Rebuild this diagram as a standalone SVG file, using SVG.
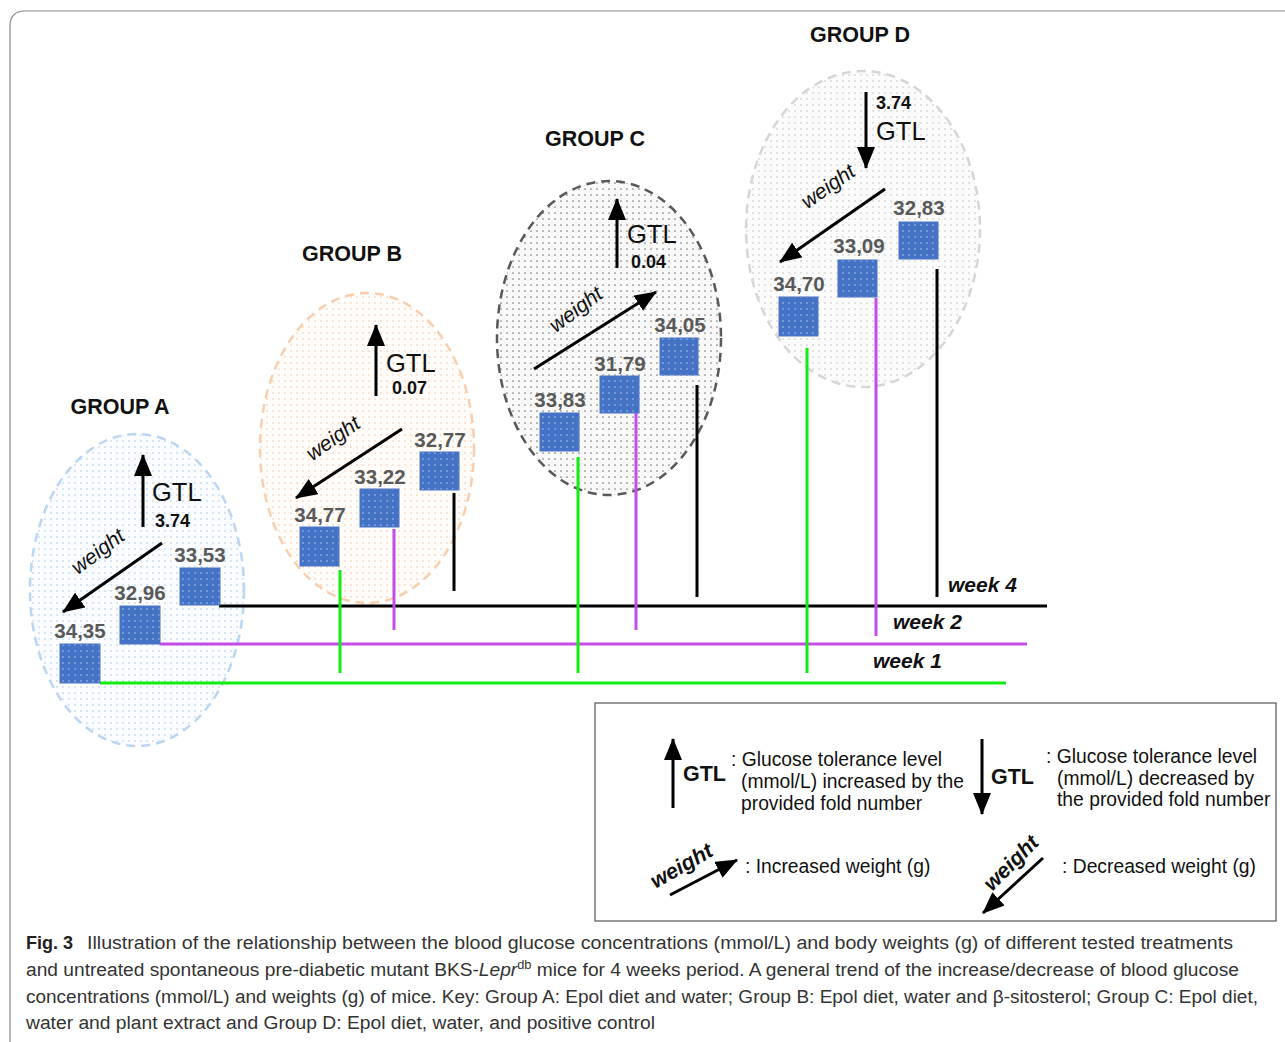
<svg xmlns="http://www.w3.org/2000/svg" width="1285" height="1042" viewBox="0 0 1285 1042">
<style>
.grp{font-family:"Liberation Sans",Arial,sans-serif;font-weight:bold;font-size:21.5px;fill:#111;text-anchor:middle}
.val{font-family:"Liberation Sans",Arial,sans-serif;font-weight:bold;font-size:20.5px;fill:#595959;text-anchor:middle}
.gtl{font-family:"Liberation Sans",Arial,sans-serif;font-size:25.5px;fill:#111}
.fold{font-family:"Liberation Sans",Arial,sans-serif;font-weight:bold;font-size:18px;fill:#111}
.wt{font-family:"Liberation Sans",Arial,sans-serif;font-style:italic;font-size:21px;fill:#111;text-anchor:middle}
.wk{font-family:"Liberation Sans",Arial,sans-serif;font-style:italic;font-weight:bold;font-size:21px;fill:#111}
.lg{font-family:"Liberation Sans",Arial,sans-serif;font-size:19.3px;fill:#111}
.lgb{font-family:"Liberation Sans",Arial,sans-serif;font-weight:bold;font-size:21.5px;fill:#111}
.lgw{font-family:"Liberation Sans",Arial,sans-serif;font-weight:bold;font-style:italic;font-size:21.5px;fill:#111;text-anchor:middle}
.cap{font-family:"Liberation Sans",Arial,sans-serif;font-size:18px;fill:#333}
.arr{stroke:#000;stroke-width:3;fill:none;marker-end:url(#ah)}
.box{fill:url(#boxp);stroke:#4a76c8;stroke-width:1}
.g1{stroke:#11ee11;stroke-width:3;fill:none}
.w2{stroke:#c44de8;stroke-width:3;fill:none}
.w4{stroke:#000;stroke-width:3;fill:none}
</style>
<defs>
<marker id="ah" viewBox="0 0 22 18" refX="21" refY="9" markerWidth="22" markerHeight="18" markerUnits="userSpaceOnUse" orient="auto">
<path d="M0,0 L22,9 L0,18 z" fill="#000"/>
</marker>
<pattern id="pA" width="6" height="6" patternUnits="userSpaceOnUse"><rect width="6" height="6" fill="#fafcff"/><circle cx="3" cy="3" r="0.9" fill="#c6daf2"/></pattern>
<pattern id="pB" width="6" height="6" patternUnits="userSpaceOnUse"><rect width="6" height="6" fill="#fffcfa"/><circle cx="3" cy="3" r="0.9" fill="#f9d9c2"/></pattern>
<pattern id="pC" width="6" height="6" patternUnits="userSpaceOnUse"><rect width="6" height="6" fill="#f8f8f8"/><circle cx="3" cy="3" r="0.85" fill="#808080"/></pattern>
<pattern id="pD" width="6" height="6" patternUnits="userSpaceOnUse"><rect width="6" height="6" fill="#fbfbfb"/><circle cx="3" cy="3" r="0.9" fill="#d6d6d6"/></pattern>
<pattern id="boxp" width="6" height="6" patternUnits="userSpaceOnUse"><rect width="6" height="6" fill="#4472c4"/><circle cx="3" cy="3" r="0.8" fill="#b8c9ea"/></pattern>
</defs>

<path d="M10,1042 L10,26 Q10,11 25,11 L1285,11" fill="none" stroke="#888" stroke-width="1.2"/>

<g id="ellipses">
<ellipse id="ellA" cx="137" cy="590" rx="107" ry="156" fill="url(#pA)" stroke="#bcd5f0" stroke-width="2.5" stroke-dasharray="9,6"/>
<ellipse id="ellB" cx="367" cy="448" rx="107" ry="155" fill="url(#pB)" stroke="#f8cfae" stroke-width="2.5" stroke-dasharray="9,6"/>
<ellipse id="ellC" cx="609" cy="338" rx="112" ry="157" fill="url(#pC)" stroke="#595959" stroke-width="2.5" stroke-dasharray="9,6"/>
<ellipse id="ellD" cx="863" cy="229" rx="117" ry="158" fill="url(#pD)" stroke="#d6d6d6" stroke-width="2.5" stroke-dasharray="9,6"/>
</g>

<g id="connectors">
<line class="w4" x1="219" y1="606" x2="1047" y2="606"/>
<line class="w2" x1="160" y1="644" x2="1027" y2="644"/>
<line class="g1" x1="100" y1="683" x2="1006" y2="683"/>
<line class="g1" x1="340" y1="570" x2="340" y2="673"/>
<line class="w2" x1="394" y1="529" x2="394" y2="630"/>
<line class="w4" x1="454" y1="493" x2="454" y2="591"/>
<line class="g1" x1="578" y1="457" x2="578" y2="673"/>
<line class="w2" x1="636" y1="408" x2="636" y2="630"/>
<line class="w4" x1="697" y1="385" x2="697" y2="597"/>
<line class="g1" x1="807" y1="348" x2="807" y2="673"/>
<line class="w2" x1="876" y1="298" x2="876" y2="636"/>
<line class="w4" x1="937" y1="269" x2="937" y2="597"/>
</g>

<g id="groupA">
<text class="grp" x="120" y="414">GROUP A</text>
<line class="arr" x1="143" y1="527" x2="143" y2="455"/>
<text class="gtl" x="152" y="501">GTL</text>
<text class="fold" x="155" y="527">3.74</text>
<line class="arr" x1="162" y1="543" x2="63" y2="612"/>
<text class="wt" transform="translate(102,557) rotate(-37)">weight</text>
<rect class="box" x="60" y="644" width="40" height="39"/>
<rect class="box" x="120" y="606" width="40" height="38"/>
<rect class="box" x="180" y="568" width="40" height="37"/>
<text class="val" x="80" y="638">34,35</text>
<text class="val" x="140" y="600">32,96</text>
<text class="val" x="200" y="562">33,53</text>
</g>

<g id="groupB">
<text class="grp" x="352" y="261">GROUP B</text>
<line class="arr" x1="376" y1="396" x2="376" y2="325"/>
<text class="gtl" x="386" y="372">GTL</text>
<text class="fold" x="392" y="394">0.07</text>
<line class="arr" x1="402" y1="429" x2="296" y2="498"/>
<text class="wt" transform="translate(337,444) rotate(-35)">weight</text>
<rect class="box" x="300" y="527" width="39" height="39"/>
<rect class="box" x="360" y="489" width="39" height="38"/>
<rect class="box" x="420" y="452" width="39" height="38"/>
<text class="val" x="320" y="522">34,77</text>
<text class="val" x="380" y="484">33,22</text>
<text class="val" x="440" y="447">32,77</text>
</g>

<g id="groupC">
<text class="grp" x="595" y="146">GROUP C</text>
<line class="arr" x1="617" y1="268" x2="617" y2="199"/>
<text class="gtl" x="627" y="243">GTL</text>
<text class="fold" x="631" y="268">0.04</text>
<line class="arr" x1="534" y1="369" x2="656" y2="292"/>
<text class="wt" transform="translate(580,315) rotate(-37)">weight</text>
<rect class="box" x="540" y="413" width="39" height="38"/>
<rect class="box" x="600" y="376" width="39" height="37"/>
<rect class="box" x="660" y="338" width="38" height="37"/>
<text class="val" x="560" y="407">33,83</text>
<text class="val" x="620" y="371">31,79</text>
<text class="val" x="680" y="332">34,05</text>
</g>

<g id="groupD">
<text class="grp" x="860" y="42">GROUP D</text>
<line class="arr" x1="866" y1="92" x2="866" y2="168"/>
<text class="fold" x="876" y="109">3.74</text>
<text class="gtl" x="876" y="140">GTL</text>
<line class="arr" x1="885" y1="189" x2="780" y2="262"/>
<text class="wt" transform="translate(832,192) rotate(-35)">weight</text>
<rect class="box" x="779" y="297" width="39" height="39"/>
<rect class="box" x="838" y="260" width="39" height="37"/>
<rect class="box" x="899" y="222" width="39" height="37"/>
<text class="val" x="799" y="291">34,70</text>
<text class="val" x="859" y="253">33,09</text>
<text class="val" x="919" y="215">32,83</text>
</g>

<g id="weeks">
<text class="wk" x="948" y="592">week 4</text>
<text class="wk" x="893" y="629">week 2</text>
<text class="wk" x="873" y="668">week 1</text>
</g>

<g id="legend">
<rect x="595" y="703" width="681" height="218" fill="#fff" stroke="#555" stroke-width="1.2"/>
<line class="arr" x1="673" y1="808" x2="673" y2="739"/>
<text class="lgb" x="683" y="781">GTL</text>
<text class="lg" x="731" y="766">: Glucose tolerance level</text>
<text class="lg" x="741" y="788">(mmol/L) increased by the</text>
<text class="lg" x="741" y="810">provided fold number</text>
<line class="arr" x1="982" y1="739" x2="982" y2="814"/>
<text class="lgb" x="991" y="784">GTL</text>
<text class="lg" x="1046" y="763">: Glucose tolerance level</text>
<text class="lg" x="1057" y="785">(mmol/L) decreased by</text>
<text class="lg" x="1057" y="806">the provided fold number</text>
<line class="arr" x1="670" y1="895" x2="737" y2="860"/>
<text class="lgw" transform="translate(685,872) rotate(-30)">weight</text>
<text class="lg" x="745" y="873">: Increased weight (g)</text>
<line class="arr" x1="1043" y1="858" x2="983" y2="913"/>
<text class="lgw" transform="translate(1016,868) rotate(-45)">weight</text>
<text class="lg" x="1062" y="873">: Decreased weight (g)</text>
</g>

<g id="caption">
<text class="cap" x="26" y="949"><tspan font-weight="bold" fill="#222">Fig. 3</tspan></text>
<text class="cap" x="87" y="949" textLength="1146" lengthAdjust="spacingAndGlyphs">Illustration of the relationship between the blood glucose concentrations (mmol/L) and body weights (g) of different tested treatments</text>
<text class="cap" x="26" y="976" textLength="1213" lengthAdjust="spacingAndGlyphs">and untreated spontaneous pre-diabetic mutant BKS-<tspan font-style="italic">Lepr</tspan><tspan font-size="12" dy="-7">db</tspan><tspan dy="7"> mice for 4 weeks period. A general trend of the increase/decrease of blood glucose</tspan></text>
<text class="cap" x="26" y="1003" textLength="1232" lengthAdjust="spacingAndGlyphs">concentrations (mmol/L) and weights (g) of mice. Key: Group A: Epol diet and water; Group B: Epol diet, water and β-sitosterol; Group C: Epol diet,</text>
<text class="cap" x="26" y="1029" textLength="629" lengthAdjust="spacingAndGlyphs">water and plant extract and Group D: Epol diet, water, and positive control</text>
</g>
</svg>
